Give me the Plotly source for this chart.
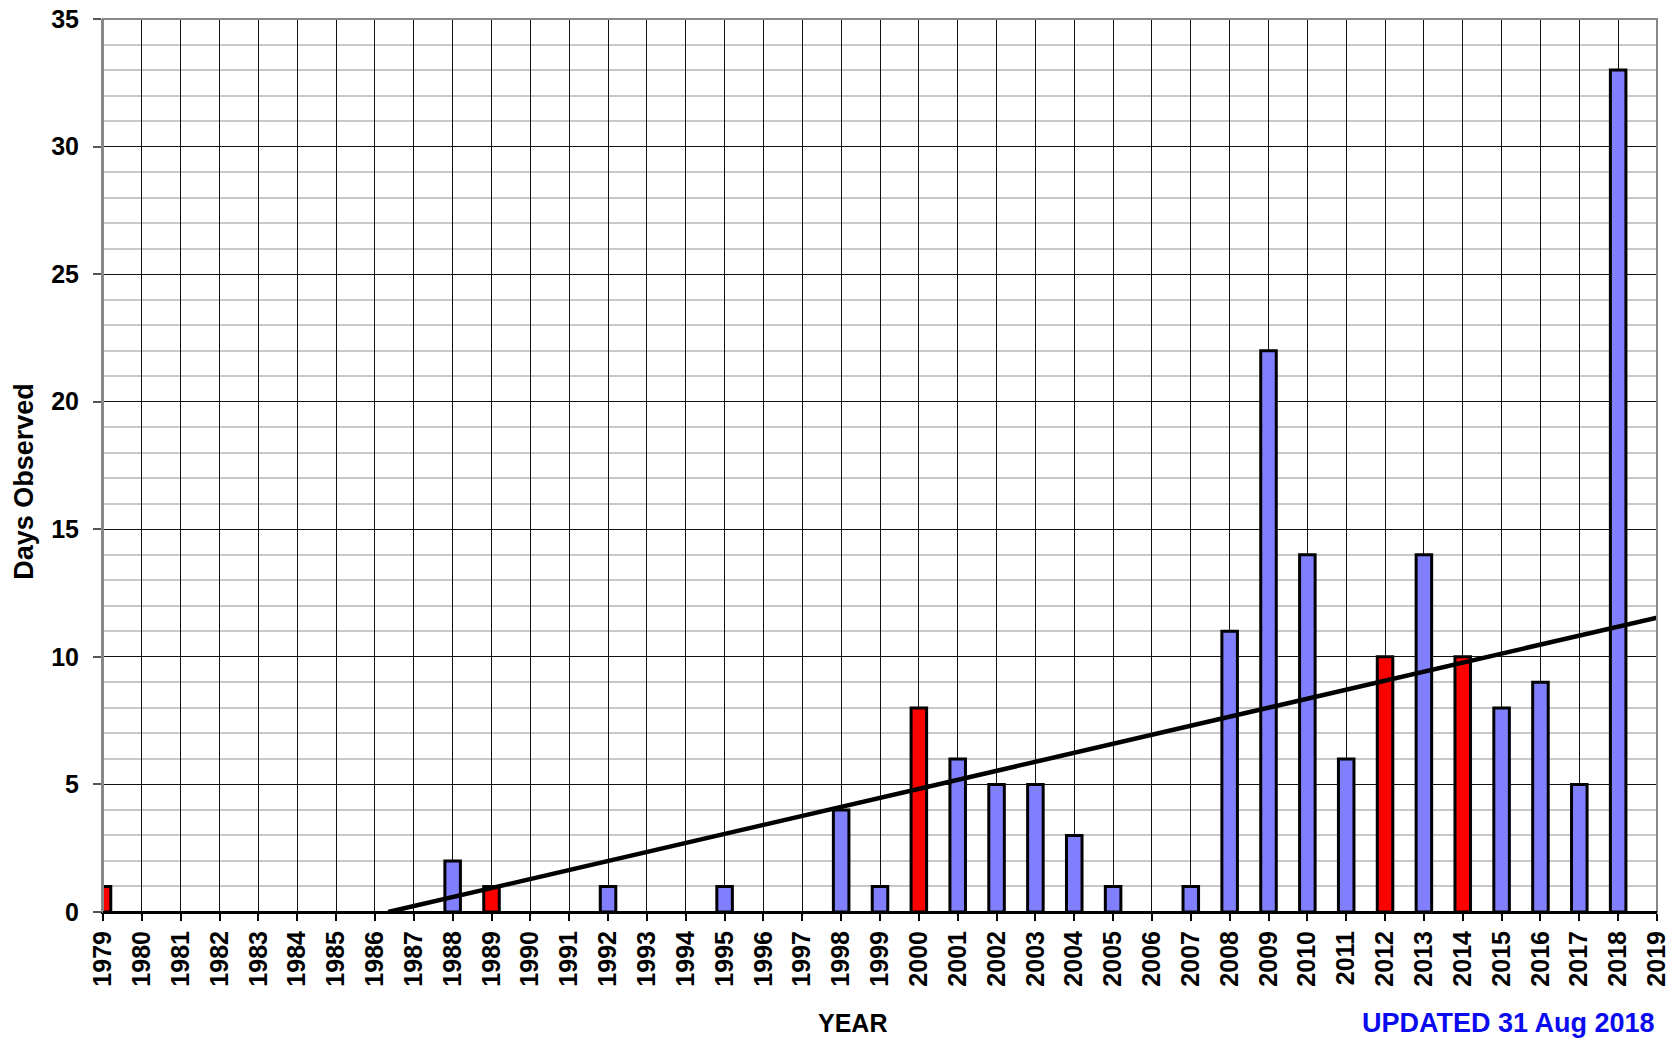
import plotly.graph_objects as go

years = list(range(1979, 2019))
days = [1, 0, 0, 0, 0, 0, 0, 0, 0, 2,
        1, 0, 0, 1, 0, 0, 1, 0, 0, 4,
        1, 8, 6, 5, 5, 3, 1, 0, 1, 11,
        22, 14, 6, 10, 14, 10, 8, 9, 5, 33]
red_years = [1979, 1989, 2000, 2012, 2014]
trend_years = [1986.34, 2019]
trend_values = [0, 11.54]
tick_years = list(range(1979, 2020))

BLUE = "#8080FF"
RED = "#FF0000"
FONT = "Liberation Sans, Arial, sans-serif"

colors = [RED if y in red_years else BLUE for y in years]
bar_values = [d if d > 0 else None for d in days]

fig = go.Figure()
fig.add_trace(go.Bar(
    x=years, y=bar_values, width=0.4,
    marker=dict(color=colors, line=dict(color="black", width=3)),
    hoverinfo="skip", showlegend=False,
))
fig.add_trace(go.Scatter(
    x=trend_years, y=trend_values, mode="lines",
    line=dict(color="black", width=4.5),
    hoverinfo="skip", showlegend=False,
))

fig.update_layout(
    width=1676, height=1040,
    margin=dict(l=103, r=19, t=19, b=128, autoexpand=False),
    plot_bgcolor="white", paper_bgcolor="white",
    font=dict(family=FONT, color="black"),
    xaxis=dict(
        range=[1979, 2019],
        tickmode="array", tickvals=tick_years, ticktext=[str(t) for t in tick_years],
        tickangle=-90,
        tickfont=dict(size=25, family=FONT, weight="bold", color="black"),
        ticks="outside", ticklen=7, tickwidth=1.5, tickcolor="black",
        showgrid=True, gridcolor="#111111", gridwidth=1.3,
        showline=True, linecolor="black", linewidth=2,
        zeroline=False,
        ticklabelstandoff=0,
    ),
    yaxis=dict(
        range=[0, 35],
        tickmode="linear", tick0=0, dtick=5,
        tickfont=dict(size=25, family=FONT, weight="bold", color="black"),
        ticks="outside", ticklen=8, tickwidth=1.5, tickcolor="#555555",
        showgrid=True, gridcolor="#111111", gridwidth=1.4,
        minor=dict(dtick=1, showgrid=True, gridcolor="#c8c8c8", gridwidth=2),
        showline=True, linecolor="#888888", linewidth=2,
        zeroline=False,
        ticklabelstandoff=9,
    ),
    shapes=[dict(type="rect", xref="paper", yref="paper", x0=0, x1=1, y0=0, y1=1,
                 line=dict(color="#888888", width=2), layer="above")],
    annotations=[
        dict(text="Days Observed", xref="paper", yref="paper", x=-0.051, y=0.4825,
             xanchor="center", yanchor="middle", textangle=-90, showarrow=False,
             font=dict(size=27, family=FONT, weight="bold", color="black")),
        dict(text="YEAR", xref="paper", yref="paper", x=0.482, y=-0.124,
             xanchor="center", yanchor="middle", showarrow=False,
             font=dict(size=25, family=FONT, weight="bold", color="black")),
        dict(text="UPDATED 31 Aug 2018", xref="paper", yref="paper", x=1.0, y=-0.124,
             xanchor="right", yanchor="middle", showarrow=False,
             font=dict(size=27, family=FONT, weight="bold", color="#0A0AF0")),
    ],
)
fig.add_shape(type="line", xref="paper", yref="paper", x0=0, x1=1, y0=0, y1=0,
              line=dict(color="black", width=2), layer="above")

fig.write_html("out.html", config={"displayModeBar": False},
               post_script="document.body.style.margin='0';document.body.style.overflow='hidden';")
